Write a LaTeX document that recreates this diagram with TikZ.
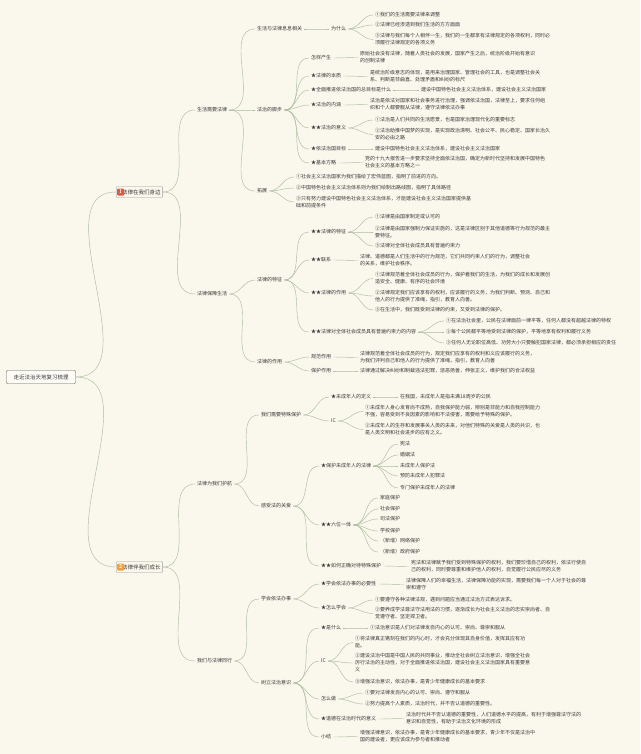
\documentclass[tikz,border=0pt]{standalone}
\usepackage{fontspec}
\newfontfamily\cjk{Noto Sans CJK SC}
\usepackage{tikz}
\usetikzlibrary{positioning}

\definecolor{paper}{RGB}{250,247,236}
\definecolor{ink}{RGB}{58,58,58}
\definecolor{twig}{RGB}{172,190,160}
\definecolor{badgeA}{RGB}{226,88,70}
\definecolor{badgeB}{RGB}{240,160,60}

\begin{document}
\begin{tikzpicture}[
    x=1pt, y=-1pt,
    txt/.style={anchor=west, xshift=-2pt, inner xsep=2pt, inner ysep=0.5pt, align=left, text=ink,
      font=\cjk\fontsize{5}{7}\selectfont},
    rootbox/.style={draw=ink!80, fill=white!60!paper, rounded corners=1pt, minimum width=69pt,
      minimum height=13pt, inner sep=1pt, text=ink, font=\cjk\fontsize{5.5}{7}\selectfont},
    secbox/.style={draw=ink!50, rounded corners=1pt, minimum height=11pt, inner xsep=2pt, inner ysep=1pt,
      anchor=west, text=ink, font=\cjk\fontsize{5.5}{7}\selectfont},
    badge/.style={rounded corners=1pt, minimum size=7pt, inner sep=0pt, text=white,
      font=\sffamily\bfseries\fontsize{5.5}{6}\selectfont},
    link/.style={draw=twig, line width=0.45pt}
  ]
  \fill[paper] (0,0) rectangle (640,754);
  \useasboundingbox (0,0) rectangle (640,754);

  % root and the two chapters
  \node[rootbox] (root) at (41,377) {走近法治天地复习梳理};
  \node[secbox] (secA) at (116,192) {\phantom{1}\,法律在我们身边};
  \node[badge, fill=badgeA, right=1pt of secA.west] (numA) {1};
  \node[secbox] (secB) at (116,567) {\phantom{2}\,法律伴我们成长};
  \node[badge, fill=badgeB, right=1pt of secB.west] (numB) {2};

  % second level
  \node[txt] (needLaw) at (197,110) {生活需要法律};
  \node[txt] (guardLife) at (197,294) {法律保障生活};
  \node[txt] (shield) at (197,484) {法律为我们护航};
  \node[txt] (walkLaw) at (197,661) {我们与法律同行};

  % third level
  \node[txt] (closeLaw) at (257,29) {生活与法律息息相关};
  \node[txt] (steps) at (257,110) {法治的脚步};
  \node[txt] (extend) at (257,191) {拓展};
  \node[txt] (traits) at (257,280) {法律的特征};
  \node[txt] (roles) at (257,362) {法律的作用};
  \node[txt] (special) at (261,415) {我们需要特殊保护};
  \node[txt] (care) at (261,506) {感受法的关爱};
  \node[txt] (byLaw) at (261,599) {学会依法办事};
  \node[txt] (aware) at (261,683) {树立法治意识};

  % 生活与法律息息相关
  \node[txt] (why) at (331,29) {为什么};
  \node[txt] (why1) at (375,15) {①我们的生活需要法律来调整};
  \node[txt] (why2) at (375,25) {②法律已经渗透到我们生活的方方面面};
  \node[txt] (why3) at (375,39.5) {③法律与我们每个人相伴一生，我们的一生都享有法律规定的各项权利，同时必\\须履行法律规定的各项义务};

  % 法治的脚步
  \node[txt] (origin) at (311,58) {怎样产生};
  \node[txt] (originT) at (360,57.5) {原始社会没有法律，随着人类社会的发展，国家产生之后，统治阶级开始有意识\\的创制法律};
  \node[txt] (essence) at (311,76) {★法律的本质};
  \node[txt] (essenceT) at (370,76.5) {是统治阶级意志的体现，是用来治理国家、管理社会的工具，也是调整社会关\\系、判断是非曲直、处理矛盾和纠纷的标尺};
  \node[txt] (goal) at (311,90) {★全面推进依法治国的总目标是什么};
  \node[txt] (goalT) at (421,90) {建设中国特色社会主义法治体系，建设社会主义法治国家};
  \node[txt] (meaning) at (311,105) {★法治的内涵};
  \node[txt] (meaningT) at (370,104.5) {法治是依法对国家和社会事务进行治理，强调依法治国，法律至上，要求任何组\\织和个人都要服从法律，遵守法律依法办事};
  \node[txt] (signif) at (311,128) {★★法治的意义};
  \node[txt] (signif1) at (375,120) {①法治是人们共同的生活愿景，也是国家治理现代化的重要标志};
  \node[txt] (signif2) at (375,134.5) {②法治助推中国梦的实现，是实现政治清明、社会公平、民心稳定、国家长治久\\安的必由之路};
  \node[txt] (target) at (311,149) {★依法治国目标};
  \node[txt] (targetT) at (375,149) {建设中国特色社会主义法治体系，建设社会主义法治国家};
  \node[txt] (strategy) at (311,163) {★基本方略};
  \node[txt] (strategyT) at (365,162.5) {党的十九大报告进一步要求坚持全面依法治国，确定为新时代坚持和发展中国特色\\社会主义的基本方略之一};

  % 拓展
  \node[txt] (ext1) at (296,177) {①社会主义法治国家为我们描绘了宏伟蓝图，指明了前进的方向。};
  \node[txt] (ext2) at (296,188) {②中国特色社会主义法治体系则为我们绘制出路线图，指明了具体路径};
  \node[txt] (ext3) at (296,202) {③只有努力建设中国特色社会主义法治体系，才能建设社会主义法治国家提供基\\础和前提条件};

  % 法律的特征
  \node[txt] (feat) at (311,232) {★★法律的特征};
  \node[txt] (feat1) at (375,217) {①法律是由国家制定或认可的};
  \node[txt] (feat2) at (375,232) {②法律是由国家强制力保证实施的，这是法律区别于其他道德等行为规范的最主\\要特征。};
  \node[txt] (feat3) at (375,246) {③法律对全体社会成员具有普遍约束力};
  \node[txt] (relate) at (311,260) {★★联系};
  \node[txt] (relateT) at (360,260.5) {法律、道德都是人们生活中的行为规范，它们共同约束人们的行为，调整社会\\的关系，维护社会秩序。};
  \node[txt] (effect) at (311,293) {★★法律的作用};
  \node[txt] (effect1) at (375,278.5) {①法律规范着全体社会成员的行为，保护着我们的生活，为我们的成长和发展创\\造安全、健康、有序的社会环境};
  \node[txt] (effect2) at (375,296) {②法律规定我们应该享有的权利，应该履行的义务，为我们判断、预测、自己和\\他人的行为提供了准绳，指引，教育人向善。};
  \node[txt] (effect3) at (375,310) {③在生活中，我们既受到法律的约束，又受到法律的保护。};
  \node[txt] (bind) at (311,332) {★★法律对全体社会成员具有普遍约束力的内容};
  \node[txt] (bind1) at (446,321) {①在法治社会里，公民在法律面前一律平等，任何人都没有超越法律的特权};
  \node[txt] (bind2) at (446,332) {②每个公民都平等地受到法律的保护，平等地享有权利和履行义务};
  \node[txt] (bind3) at (446,343) {③任何人无论职位高低、功劳大小只要触犯国家法律，都必须承担相应的责任};

  % 法律的作用
  \node[txt] (norm) at (311,357) {规范作用};
  \node[txt] (normT) at (360,357.5) {法律规范着全体社会成员的行为，规定我们应享有的权利和义应该履行的义务，\\为我们评判自己和他人的行为提供了准绳，指引，教育人向善};
  \node[txt] (protect) at (311,371) {保护作用};
  \node[txt] (protectT) at (360,371) {法律通过解决纠纷和制裁违法犯罪，惩恶扬善，伸张正义，维护我们的合法权益};

  % 我们需要特殊保护
  \node[txt] (minor) at (331,397) {★未成年人的定义};
  \node[txt] (minorT) at (400,397) {在我国，未成年人是指未满18周岁的公民};
  \node[txt] (reason) at (331,421) {IC};
  \node[txt] (reason1) at (365,411.5) {①未成年人身心发育尚不成熟，自我保护能力弱，辨别是非能力和自我控制能力\\不强，容易受到不良因素的影响和不法侵害，需要给予特殊的保护。};
  \node[txt] (reason2) at (365,429.5) {②未成年人的生存和发展事关人类的未来，对他们特殊的关爱是人类的共识，也\\是人类文明和社会进步的应有之义。};

  % 感受法的关爱
  \node[txt] (laws) at (321,466) {★保护未成年人的法律};
  \node[txt] (laws1) at (400,444) {宪法};
  \node[txt] (laws2) at (400,455) {婚姻法};
  \node[txt] (laws3) at (400,466) {未成年人保护法};
  \node[txt] (laws4) at (400,476) {预防未成年人犯罪法};
  \node[txt] (laws5) at (400,488) {专门保护未成年人的法律};
  \node[txt] (six) at (321,525) {★★六位一体};
  \node[txt] (six1) at (380,498) {家庭保护};
  \node[txt] (six2) at (380,509) {社会保护};
  \node[txt] (six3) at (380,519) {司法保护};
  \node[txt] (six4) at (380,531) {学校保护};
  \node[txt] (six5) at (380,541) {（新增）网络保护};
  \node[txt] (six6) at (380,552) {（新增）政府保护};
  \node[txt] (treat) at (321,566) {★★如何正确对待特殊保护};
  \node[txt] (treatT) at (411,566.5) {宪法和法律赋予我们受到特殊保护的权利，我们要珍惜自己的权利，依法行使自\\己的权利，同时要尊重和维护他人的权利，自觉履行公民应尽的义务};

  % 学会依法办事
  \node[txt] (need) at (321,584) {★学会依法办事的必要性};
  \node[txt] (needT) at (406,584.5) {法律保障人们的幸福生活，法律保障功能的实现，需要我们每一个人对于社会的尊\\崇和遵守};
  \node[txt] (how) at (321,608) {★怎么学会};
  \node[txt] (how1) at (375,600) {①要遵守各种法律法规，遇到问题应当通过法治方式表达诉求。};
  \node[txt] (how2) at (375,613.5) {②要养成学法尊法守法用法的习惯，逐渐成长为社会主义法治的忠实崇尚者、自\\觉遵守者、坚定捍卫者。};

  % 树立法治意识
  \node[txt] (what) at (321,628) {★是什么};
  \node[txt] (whatT) at (370,628) {①法治意识是人们对法律发自内心的认可、崇尚、尊崇和服从};
  \node[txt] (value) at (321,661) {IC};
  \node[txt] (value1) at (355,642.5) {①将法律真正镌刻在我们的内心时，才会充分体现其自身价值，发挥其应有功\\能。};
  \node[txt] (value2) at (355,663) {②建设法治中国是中国人民的共同事业，推动全社会树立法治意识，增强全社会\\厉行法治的主动性，对于全面推进依法治国，建设社会主义法治国家具有重要意\\义};
  \node[txt] (value3) at (355,682) {③增强法治意识，依法办事，是青少年健康成长的基本要求};
  \node[txt] (act) at (321,699) {怎么做};
  \node[txt] (act1) at (365,693) {①要对法律发自内心的认可、崇尚、遵守和服从};
  \node[txt] (act2) at (365,704) {②努力提高个人素质，法治时代，并不否认道德的重要性。};
  \node[txt] (moral) at (321,719) {★道德在法治时代的意义};
  \node[txt] (moralT) at (406,718.5) {法治时代并不否认道德的重要性，人们道德水平的提高，有利于增强尊法守法的\\意识和自觉性，有助于法治文化环境的形成};
  \node[txt] (sum) at (321,737) {小结};
  \node[txt] (sumT) at (360,736.5) {增强法律意识，依法办事，是青少年健康成长的基本要求，青少年不仅是法治中\\国的建设者，更应该成为参与者和推动者};

  % connectors
  \foreach \a/\b in {root/secA, root/secB, secA/needLaw, secA/guardLife, secB/shield, secB/walkLaw,
      needLaw/closeLaw, needLaw/steps, needLaw/extend, guardLife/traits, guardLife/roles,
      shield/special, shield/care, walkLaw/byLaw, walkLaw/aware,
      closeLaw/why, why/why1, why/why2, why/why3,
      steps/origin, steps/essence, steps/goal, steps/meaning, steps/signif, steps/target, steps/strategy,
      origin/originT, essence/essenceT, goal/goalT, meaning/meaningT, signif/signif1, signif/signif2,
      target/targetT, strategy/strategyT, extend/ext1, extend/ext2, extend/ext3,
      traits/feat, traits/relate, traits/effect, traits/bind, feat/feat1, feat/feat2, feat/feat3,
      relate/relateT, effect/effect1, effect/effect2, effect/effect3, bind/bind1, bind/bind2, bind/bind3,
      roles/norm, roles/protect, norm/normT, protect/protectT,
      special/minor, special/reason, minor/minorT, reason/reason1, reason/reason2,
      care/laws, care/six, care/treat, laws/laws1, laws/laws2, laws/laws3, laws/laws4, laws/laws5,
      six/six1, six/six2, six/six3, six/six4, six/six5, six/six6, treat/treatT,
      byLaw/need, byLaw/how, need/needT, how/how1, how/how2,
      aware/what, aware/value, aware/act, aware/moral, aware/sum, what/whatT,
      value/value1, value/value2, value/value3, act/act1, act/act2, moral/moralT, sum/sumT}
    \draw[link] (\a.east) to[out=0, in=180] (\b.west);
\end{tikzpicture}
\end{document}
